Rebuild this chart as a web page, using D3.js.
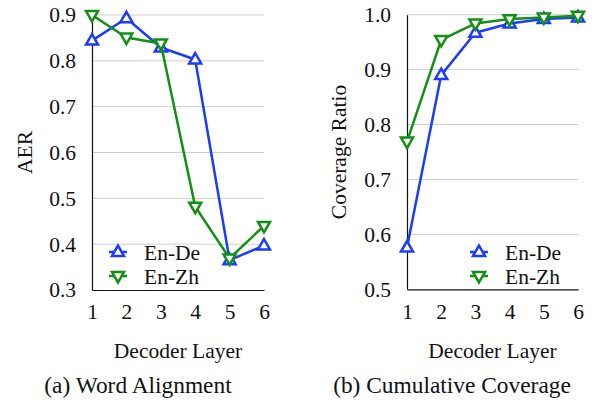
<!DOCTYPE html>
<html>
<head>
<meta charset="utf-8">
<script src="https://cdn.jsdelivr.net/npm/d3@7"></script>
<style>
  body { margin: 0; background: #fff; }
</style>
</head>
<body>
<div id="chart"></div>
<script>
const layers = [1, 2, 3, 4, 5, 6];
const seriesNames = ['En-De', 'En-Zh'];

// (a) Word Alignment, AER per decoder layer
const aerEnDe = [0.844, 0.893, 0.829, 0.803, 0.365, 0.397];
const aerEnZh = [0.900, 0.851, 0.838, 0.482, 0.369, 0.440];
const aerTicks = [0.3, 0.4, 0.5, 0.6, 0.7, 0.8, 0.9];

// (b) Cumulative Coverage
const covEnDe = [0.576, 0.890, 0.967, 0.984, 0.992, 0.995];
const covEnZh = [0.769, 0.954, 0.984, 0.992, 0.995, 0.998];
const covTicks = [0.5, 0.6, 0.7, 0.8, 0.9, 1.0];

const colors = { 'En-De': '#1b3cff', 'En-Zh': '#129012' };
const symbols = { 'En-De': 'up', 'En-Zh': 'down' };
const FONT = 'Liberation Serif';

const svg = d3.select('#chart').append('svg')
  .attr('width', 595)
  .attr('height', 403)
  .style('font-family', FONT);

function triangle(dir, s) {
  // open triangle path centred on 0,0
  const h = s * 0.866;
  if (dir === 'up') return `M0,${-h * 0.62}L${s / 2},${h * 0.38}L${-s / 2},${h * 0.38}Z`;
  return `M0,${h * 0.62}L${s / 2},${-h * 0.38}L${-s / 2},${-h * 0.38}Z`;
}

function label(sel, size) {
  return sel.style('font-family', FONT).style('font-size', size + 'px').attr('fill', '#111');
}

function drawPanel(opts) {
  const g = svg.append('g');
  const x = d3.scaleLinear().domain([1, 6]).range([opts.left, opts.right]);
  const y = d3.scaleLinear().domain(opts.domain).range([opts.bottom, opts.top]);

  // gridlines
  g.selectAll('.grid').data(opts.ticks.slice(1)).enter().append('line')
    .attr('x1', opts.left).attr('x2', opts.right)
    .attr('y1', d => y(d)).attr('y2', d => y(d))
    .attr('stroke', '#cfcfcf').attr('stroke-width', 1);

  // axes
  const yAxis = d3.axisLeft(y).tickValues(opts.ticks).tickFormat(d3.format('.1f')).tickSize(0).tickPadding(16);
  const ya = g.append('g').attr('transform', `translate(${opts.left},0)`).call(yAxis);
  ya.select('.domain').attr('stroke', '#111').attr('stroke-width', 1.2);
  label(ya.selectAll('text'), 21.5);

  const xAxis = d3.axisBottom(x).tickValues(layers).tickFormat(d3.format('d')).tickSize(0).tickPadding(14);
  const xa = g.append('g').attr('transform', `translate(0,${opts.bottom})`).call(xAxis);
  xa.select('.domain').attr('stroke', '#111').attr('stroke-width', 1.2);
  label(xa.selectAll('text'), 21.5);

  // series
  const line = d3.line().x((d, i) => x(layers[i])).y(d => y(d));
  opts.series.forEach(s => {
    g.append('path').attr('d', line(s.values))
      .attr('fill', 'none').attr('stroke', colors[s.name]).attr('stroke-width', 2.5)
      .attr('stroke-linejoin', 'round');
    g.selectAll(null).data(s.values).enter().append('path')
      .attr('transform', (d, i) => `translate(${x(layers[i])},${y(d)})`)
      .attr('d', triangle(symbols[s.name], 12))
      .attr('fill', '#fff').attr('stroke', colors[s.name]).attr('stroke-width', 2.5);
  });

  // legend
  seriesNames.forEach((name, i) => {
    const ly = opts.legendY + i * 24;
    g.append('line')
      .attr('x1', opts.legendX - 9).attr('x2', opts.legendX + 9)
      .attr('y1', ly).attr('y2', ly)
      .attr('stroke', colors[name]).attr('stroke-width', 2.5);
    g.append('path').attr('transform', `translate(${opts.legendX},${ly})`)
      .attr('d', triangle(symbols[name], 12))
      .attr('fill', '#fff').attr('stroke', colors[name]).attr('stroke-width', 2.5);
    label(g.append('text').attr('x', opts.legendX + 26).attr('y', ly + 8), 21.5).text(name);
  });

  // titles
  label(g.append('text')
    .attr('transform', `translate(${opts.yTitleX},${(opts.top + opts.bottom) / 2}) rotate(-90)`)
    .attr('text-anchor', 'middle'), 21.5).text(opts.yTitle);
  label(g.append('text').attr('x', (opts.left + opts.right) / 2).attr('y', 358)
    .attr('text-anchor', 'middle'), 21.5).text('Decoder Layer');
  label(g.append('text').attr('x', opts.captionX).attr('y', 393)
    .attr('text-anchor', 'middle'), 23.4).text(opts.caption);
}

drawPanel({
  left: 92, right: 264, top: 15, bottom: 290,
  domain: [0.3, 0.9], ticks: aerTicks,
  series: [{ name: 'En-De', values: aerEnDe }, { name: 'En-Zh', values: aerEnZh }],
  legendX: 118, legendY: 252,
  yTitle: 'AER', yTitleX: 32,
  caption: '(a) Word Alignment', captionX: 138
});

drawPanel({
  left: 407, right: 578, top: 14.7, bottom: 289.3,
  domain: [0.5, 1.0], ticks: covTicks,
  series: [{ name: 'En-De', values: covEnDe }, { name: 'En-Zh', values: covEnZh }],
  legendX: 479, legendY: 252,
  yTitle: 'Coverage Ratio', yTitleX: 346,
  caption: '(b) Cumulative Coverage', captionX: 452
});
</script>
</body>
</html>
